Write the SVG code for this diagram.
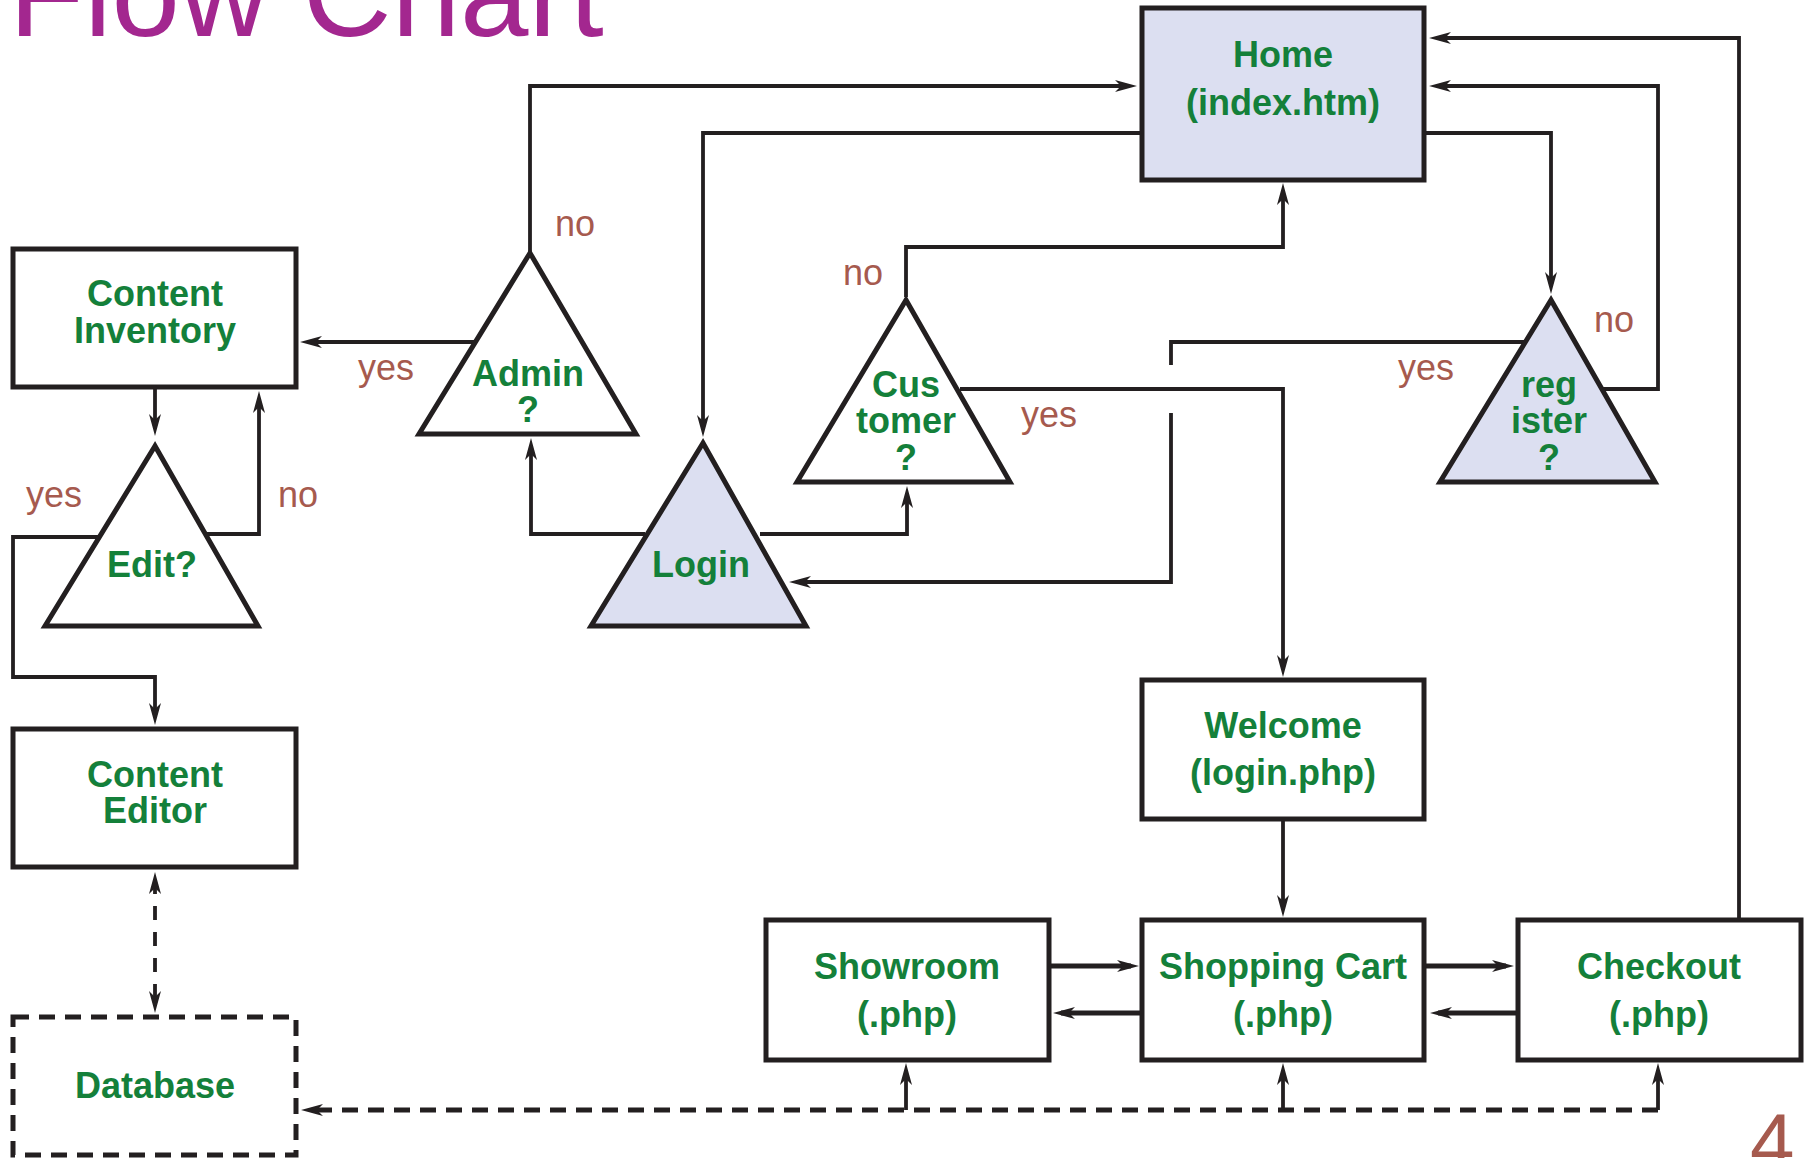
<svg xmlns="http://www.w3.org/2000/svg" width="1805" height="1158" viewBox="0 0 1805 1158">
<defs>
<style>
.box{fill:#ffffff;stroke:#231F20;stroke-width:5}
.hl{fill:#DCDFF1}
.dash{stroke-dasharray:16 10}
.t{font-family:"Liberation Sans",Arial,sans-serif;font-weight:bold;font-size:36px;fill:#14803A;text-anchor:middle}
.lb{font-family:"Liberation Sans",Arial,sans-serif;font-size:36px;fill:#A65A4E}
.c{fill:none;stroke:#231F20;stroke-width:3.8}
.a{marker-end:url(#ah)}
</style>
<marker id="ah" viewBox="0 0 22 12" refX="14" refY="6" markerWidth="22" markerHeight="12" markerUnits="userSpaceOnUse" orient="auto-start-reverse">
<path d="M0,0 L22,6 L0,12 L6,6 Z" fill="#231F20"/>
</marker>
</defs>
<rect width="1805" height="1158" fill="#ffffff"/>
<text x="9" y="36" font-family="Liberation Sans,Arial,sans-serif" font-size="123" fill="#A3278F">Flow Chart</text>
<text x="1750" y="1169" font-family="Liberation Sans,Arial,sans-serif" font-size="80" fill="#A65A4E">4</text>

<g id="connectors">
<path class="c a" d="M530,253 V86 H1129"/>
<path class="c a" d="M1140,133 H703 V429"/>
<path class="c a" d="M906,297 V247 H1283 V191"/>
<path class="c a" d="M960,389 H1283 V669"/>
<path class="c a" d="M1426,133 H1551 V286"/>
<path class="c a" d="M1602,389 H1658 V86 H1437"/>
<path class="c a" d="M1739,918 V38 H1437"/>
<path class="c" d="M1525,342 H1171 V365"/>
<path class="c a" d="M1171,413 V582 H797"/>
<path class="c a" d="M475,342 H308"/>
<path class="c a" d="M645,534 H531 V446"/>
<path class="c a" d="M760,534 H907 V494"/>
<path class="c a" d="M155,389 V428"/>
<path class="c a" d="M205,534 H259 V399"/>
<path class="c a" d="M99,537 H13 V677 H155 V717"/>
<path class="c a" d="M1283,821 V909"/>
<path class="c a" d="M1051,966 H1131" style="stroke-width:5"/>
<path class="c a" d="M1142,1013 H1061" style="stroke-width:5"/>
<path class="c a" d="M1426,966 H1506" style="stroke-width:5"/>
<path class="c a" d="M1518,1013 H1438" style="stroke-width:5"/>
<path class="c a" d="M155,880 V1005" style="stroke-dasharray:14 12;marker-start:url(#ah)"/>
<path class="c a dash" d="M1658,1110 H309" style="stroke-width:5"/>
<path class="c a" d="M906,1110 V1071"/>
<path class="c a" d="M1283,1110 V1071"/>
<path class="c a" d="M1658,1110 V1071"/>
</g>

<g id="home">
<rect class="box hl" x="1142" y="8" width="282" height="172" style="fill:#DCDFF1"/>
<text class="t" x="1283" y="67">Home</text>
<text class="t" x="1283" y="115">(index.htm)</text>
</g>
<g id="content-inventory">
<rect class="box" x="13" y="249" width="283" height="138"/>
<text class="t" x="155" y="306">Content</text>
<text class="t" x="155" y="343">Inventory</text>
</g>
<g id="admin">
<polygon class="box" points="530,253 419,434 636,434"/>
<text class="t" x="528" y="386">Admin</text>
<text class="t" x="528" y="422">?</text>
</g>
<g id="customer">
<polygon class="box" points="906,300 797,482 1010,482"/>
<text class="t" x="906" y="397">Cus</text>
<text class="t" x="906" y="433">tomer</text>
<text class="t" x="906" y="470">?</text>
</g>
<g id="register">
<polygon class="box" points="1551,300 1440,482 1655,482" style="fill:#DCDFF1"/>
<text class="t" x="1549" y="397">reg</text>
<text class="t" x="1549" y="433">ister</text>
<text class="t" x="1549" y="470">?</text>
</g>
<g id="edit">
<polygon class="box" points="155,446 45,626 258,626"/>
<text class="t" x="152" y="577">Edit?</text>
</g>
<g id="login">
<polygon class="box" points="703,443 591,626 806,626" style="fill:#DCDFF1"/>
<text class="t" x="701" y="577">Login</text>
</g>
<g id="content-editor">
<rect class="box" x="13" y="729" width="283" height="138"/>
<text class="t" x="155" y="787">Content</text>
<text class="t" x="155" y="823">Editor</text>
</g>
<g id="database">
<rect class="box dash" x="13" y="1017" width="283" height="138"/>
<text class="t" x="155" y="1098">Database</text>
</g>
<g id="welcome">
<rect class="box" x="1142" y="680" width="282" height="139"/>
<text class="t" x="1283" y="738">Welcome</text>
<text class="t" x="1283" y="785">(login.php)</text>
</g>
<g id="showroom">
<rect class="box" x="766" y="920" width="283" height="140"/>
<text class="t" x="907" y="979">Showroom</text>
<text class="t" x="907" y="1027">(.php)</text>
</g>
<g id="shopping-cart">
<rect class="box" x="1142" y="920" width="282" height="140"/>
<text class="t" x="1283" y="979">Shopping Cart</text>
<text class="t" x="1283" y="1027">(.php)</text>
</g>
<g id="checkout">
<rect class="box" x="1518" y="920" width="283" height="140"/>
<text class="t" x="1659" y="979">Checkout</text>
<text class="t" x="1659" y="1027">(.php)</text>
</g>

<g id="labels">
<text class="lb" x="555" y="236">no</text>
<text class="lb" x="358" y="380">yes</text>
<text class="lb" x="843" y="285">no</text>
<text class="lb" x="1021" y="427">yes</text>
<text class="lb" x="1398" y="380">yes</text>
<text class="lb" x="1594" y="332">no</text>
<text class="lb" x="26" y="507">yes</text>
<text class="lb" x="278" y="507">no</text>
</g>
</svg>
